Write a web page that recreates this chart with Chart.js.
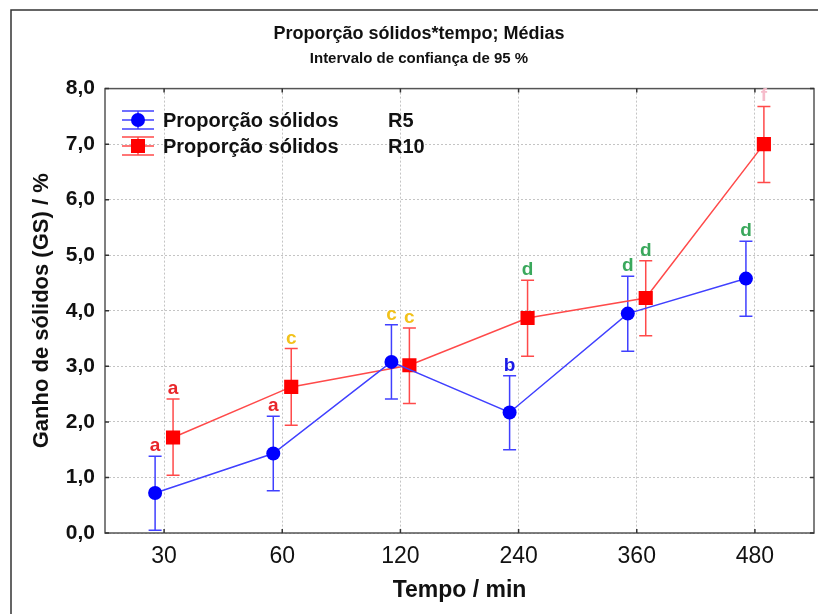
<!DOCTYPE html>
<html>
<head>
<meta charset="utf-8">
<script src="https://cdn.jsdelivr.net/npm/chart.js@4.4.1/dist/chart.umd.min.js"></script>
<style>
  html, body { margin: 0; padding: 0; background: #fff; }
</style>
</head>
<body>
<canvas id="grafico" width="818" height="614"></canvas>
<script>
// dados
const categorias = ['30', '60', '120', '240', '360', '480'];
const yTicks = [0, 1, 2, 3, 4, 5, 6, 7, 8];
const yTickLabels = ['0,0', '1,0', '2,0', '3,0', '4,0', '5,0', '6,0', '7,0', '8,0'];

const r5Medias = [0.72, 1.43, 3.08, 2.17, 3.95, 4.58];
const r5Inf    = [0.05, 0.76, 2.41, 1.50, 3.27, 3.90];
const r5Sup    = [1.38, 2.10, 3.75, 2.83, 4.62, 5.25];
const r5Letras = ['a', 'a', 'c', 'b', 'd', 'd'];

const r10Medias = [1.72, 2.63, 3.02, 3.87, 4.23, 7.00];
const r10Inf    = [1.04, 1.94, 2.33, 3.18, 3.55, 6.31];
const r10Sup    = [2.41, 3.32, 3.69, 4.55, 4.90, 7.68];
const r10Letras = ['a', 'c', 'c', 'd', 'd', 'f'];

const nomesSeries = ['Proporção sólidos', 'Proporção sólidos'];
const codigosSeries = ['R5', 'R10'];

const fonte = "'Liberation Sans', Arial, sans-serif";
const corLetra = { a: '#e8262a', b: '#1a1ae6', c: '#f2c21b', d: '#3aa85c', f: '#f6bccb' };
const desloc = 0.076; // afastamento lateral das duas séries em cada tempo

const series = [
  { medias: r5Medias, inf: r5Inf, sup: r5Sup, letras: r5Letras, cor: '#0000ff', corLinha: '#4040ff', estilo: 'circle', raio: 7 },
  { medias: r10Medias, inf: r10Inf, sup: r10Sup, letras: r10Letras, cor: '#ff0000', corLinha: '#ff4a4a', estilo: 'rect', raio: 10 }
];

const marco = {
  id: 'marco',
  beforeDraw(chart) {
    const ctx = chart.ctx;
    ctx.save();
    ctx.strokeStyle = '#333';
    ctx.lineWidth = 1.5;
    ctx.strokeRect(11, 10, 900, 700);
    ctx.restore();
  },
  beforeDatasetsDraw(chart) {
    const { ctx, chartArea: a, scales: { x, y } } = chart;
    ctx.save();
    ctx.strokeStyle = '#555';
    ctx.lineWidth = 1.5;
    ctx.strokeRect(a.left, a.top, a.right - a.left, a.bottom - a.top);
    ctx.strokeStyle = '#333';
    ctx.beginPath();
    yTicks.forEach(v => {
      const py = y.getPixelForValue(v);
      ctx.moveTo(a.left, py); ctx.lineTo(a.left + 4, py);
      ctx.moveTo(a.right, py); ctx.lineTo(a.right - 4, py);
    });
    categorias.forEach((c, i) => {
      const px = x.getPixelForValue(i);
      ctx.moveTo(px, a.bottom); ctx.lineTo(px, a.bottom - 4);
      ctx.moveTo(px, a.top); ctx.lineTo(px, a.top + 4);
    });
    ctx.stroke();
    ctx.restore();
  }
};

const barrasErro = {
  id: 'barrasErro',
  beforeDatasetsDraw(chart) {
    const { ctx, scales: { y } } = chart;
    series.forEach((s, d) => {
      const meta = chart.getDatasetMeta(d);
      ctx.save();
      ctx.strokeStyle = s.corLinha;
      ctx.lineWidth = 1.5;
      meta.data.forEach((pt, i) => {
        const yTop = y.getPixelForValue(s.sup[i]);
        const yBot = y.getPixelForValue(s.inf[i]);
        ctx.beginPath();
        ctx.moveTo(pt.x, yTop); ctx.lineTo(pt.x, yBot);
        ctx.moveTo(pt.x - 6.5, yTop); ctx.lineTo(pt.x + 6.5, yTop);
        ctx.moveTo(pt.x - 6.5, yBot); ctx.lineTo(pt.x + 6.5, yBot);
        ctx.stroke();
      });
      ctx.restore();
    });
  }
};

const letras = {
  id: 'letras',
  afterDatasetsDraw(chart) {
    const { ctx, scales: { y } } = chart;
    ctx.save();
    ctx.font = 'bold 19px ' + fonte;
    ctx.textAlign = 'center';
    ctx.textBaseline = 'alphabetic';
    series.forEach((s, d) => {
      chart.getDatasetMeta(d).data.forEach((pt, i) => {
        ctx.fillStyle = corLetra[s.letras[i]];
        ctx.fillText(s.letras[i], pt.x, y.getPixelForValue(s.sup[i]) - 5);
      });
    });
    ctx.restore();
  }
};

const legenda = {
  id: 'legenda',
  afterDraw(chart) {
    const ctx = chart.ctx;
    const x0 = 138;
    ctx.save();
    series.forEach((s, d) => {
      const cy = 120 + d * 26;
      ctx.strokeStyle = s.corLinha;
      ctx.lineWidth = 1.5;
      ctx.beginPath();
      ctx.moveTo(x0 - 16, cy - 9); ctx.lineTo(x0 + 16, cy - 9);
      ctx.moveTo(x0 - 16, cy); ctx.lineTo(x0 + 16, cy);
      ctx.moveTo(x0 - 16, cy + 9); ctx.lineTo(x0 + 16, cy + 9);
      ctx.moveTo(x0, cy - 9); ctx.lineTo(x0, cy + 9);
      ctx.stroke();
      ctx.fillStyle = s.cor;
      ctx.beginPath();
      if (s.estilo === 'circle') ctx.arc(x0, cy, 7, 0, Math.PI * 2);
      else ctx.rect(x0 - 7, cy - 7, 14, 14);
      ctx.fill();
      ctx.fillStyle = '#111';
      ctx.font = 'bold 20px ' + fonte;
      ctx.textBaseline = 'middle';
      ctx.fillText(nomesSeries[d], 163, cy + 1);
      ctx.fillText(codigosSeries[d], 388, cy + 1);
    });
    ctx.restore();
  }
};

const ctx = document.getElementById('grafico').getContext('2d');
new Chart(ctx, {
  type: 'line',
  data: {
    datasets: series.map((s, d) => ({
      label: nomesSeries[d] + ' ' + codigosSeries[d],
      data: s.medias.map((v, i) => ({ x: i + (d === 0 ? -desloc : desloc), y: v })),
      borderColor: s.corLinha,
      borderWidth: 1.5,
      pointStyle: s.estilo,
      pointRadius: s.raio,
      pointBackgroundColor: s.cor,
      pointBorderColor: s.cor,
      pointBorderWidth: 0,
      tension: 0,
      fill: false
    }))
  },
  options: {
    responsive: false,
    animation: false,
    layout: { autoPadding: false, padding: { left: 24, right: 4, top: 0, bottom: 0 } },
    plugins: {
      legend: { display: false },
      tooltip: { enabled: false },
      title: {
        display: true,
        text: 'Proporção sólidos*tempo; Médias',
        color: '#111',
        font: { family: fonte, size: 18, weight: 'bold' },
        padding: { top: 23, bottom: 0 }
      },
      subtitle: {
        display: true,
        text: 'Intervalo de confiança de 95 %',
        color: '#111',
        font: { family: fonte, size: 15, weight: 'bold' },
        padding: { top: 5, bottom: 21 }
      }
    },
    scales: {
      x: {
        type: 'linear',
        min: -0.5,
        max: 5.5,
        afterBuildTicks: s => { s.ticks = categorias.map((c, i) => ({ value: i })); },
        afterFit: s => { s.height = 81; s.paddingLeft = 0; s.paddingRight = 0; },
        ticks: {
          callback: (v) => categorias[v],
          color: '#111',
          font: { family: fonte, size: 23 },
          padding: 10,
          maxRotation: 0,
          autoSkip: false
        },
        grid: { color: '#c4c4c4', lineWidth: 1, drawTicks: false },
        border: { display: false, dash: [2, 2] },
        title: {
          display: true,
          text: 'Tempo / min',
          color: '#111',
          font: { family: fonte, size: 23, weight: 'bold' },
          padding: { bottom: 10 }
        }
      },
      y: {
        min: 0,
        max: 8,
        afterBuildTicks: s => { s.ticks = yTicks.map(v => ({ value: v })); },
        afterFit: s => { s.width = 81; },
        ticks: {
          callback: (v, i) => yTickLabels[i],
          color: '#111',
          font: { family: fonte, size: 21, weight: 'bold' },
          padding: 10
        },
        grid: { color: '#c4c4c4', lineWidth: 1, drawTicks: false },
        border: { display: false, dash: [2, 2] },
        title: {
          display: true,
          text: 'Ganho de sólidos (GS) / %',
          color: '#111',
          font: { family: fonte, size: 22, weight: 'bold' },
          padding: { top: 5 }
        }
      }
    }
  },
  plugins: [marco, barrasErro, letras, legenda]
});
</script>
</body>
</html>
